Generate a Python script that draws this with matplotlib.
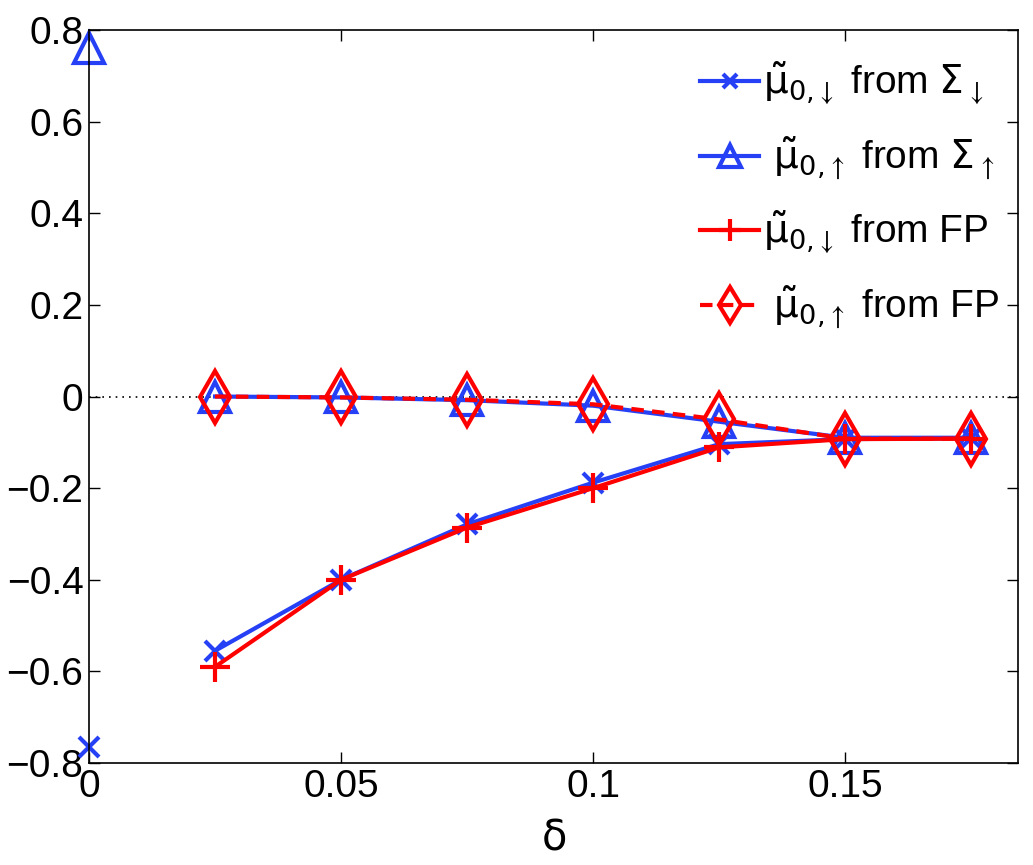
import numpy as np
import matplotlib
matplotlib.use("Agg")
import matplotlib.pyplot as plt

plt.rcParams["font.family"] = ["Liberation Sans", "DejaVu Sans"]
plt.rcParams["mathtext.fontset"] = "custom"
plt.rcParams["mathtext.rm"] = "DejaVu Sans"
plt.rcParams["mathtext.it"] = "DejaVu Sans"
plt.rcParams["mathtext.bf"] = "DejaVu Sans:bold"
plt.rcParams["mathtext.sf"] = "STIXGeneral"

# ---- data ----
delta = [0.025, 0.05, 0.075, 0.1, 0.125, 0.15, 0.175]
mu_down_sigma = [-0.555, -0.400, -0.279, -0.188, -0.104, -0.093, -0.091]
mu_up_sigma = [0.0, -0.002, -0.008, -0.020, -0.055, -0.090, -0.090]
mu_down_fp = [-0.590, -0.400, -0.286, -0.200, -0.111, -0.093, -0.092]
mu_up_fp = [0.0, -0.002, -0.007, -0.017, -0.050, -0.092, -0.092]

# isolated values at delta = 0 (Sigma only)
delta0 = [0.0]
mu_down_sigma0 = [-0.765]
mu_up_sigma0 = [0.761]

labels = [
    r"$\tilde{\mu}_{0{,}\mathsf{\downarrow}}$ from $\Sigma_{\mathsf{\downarrow}}$",
    r" $\tilde{\mu}_{0{,}\mathsf{\uparrow}}$ from $\Sigma_{\mathsf{\uparrow}}$",
    r"$\tilde{\mu}_{0{,}\mathsf{\downarrow}}$ from FP",
    r" $\tilde{\mu}_{0{,}\mathsf{\uparrow}}$ from FP",
]

BLUE = "#2640f5"
RED = "#ff0000"

fig = plt.figure(figsize=(10.33, 8.65), dpi=100)
ax = fig.add_axes([0.0862, 0.1179, 0.8993, 0.8474])

ax.axhline(0, color="k", linestyle=(0, (1, 3)), linewidth=1.2, zorder=1)

ax.plot(delta, mu_down_sigma, color=BLUE, linewidth=3, marker="x",
        markersize=14, markeredgewidth=3, label=labels[0])
ax.plot(delta, mu_up_sigma, color=BLUE, linewidth=3, marker="^",
        markersize=22, markeredgewidth=3, markerfacecolor="none",
        label=labels[1])
ax.plot(delta, mu_down_fp, color=RED, linewidth=3, marker="+",
        markersize=22, markeredgewidth=3, label=labels[2])
ax.plot(delta, mu_up_fp, color=RED, linewidth=3, linestyle="--",
        dashes=(3, 2), marker="d", markersize=26, markeredgewidth=3,
        markerfacecolor="none", label=labels[3])

ax.plot(delta0, mu_down_sigma0, linestyle="none", color=BLUE, marker="x",
        markersize=14, markeredgewidth=3, clip_on=False)
ax.plot(delta0, mu_up_sigma0, linestyle="none", color=BLUE, marker="^",
        markersize=22, markeredgewidth=3, markerfacecolor="none",
        clip_on=False)

ax.set_xlim(0, 0.1843)
ax.set_ylim(-0.8, 0.8)
ax.set_xticks([0, 0.05, 0.1, 0.15])
ax.set_xticklabels(["0", "0.05", "0.1", "0.15"])
ax.set_yticks(np.arange(-0.8, 0.81, 0.2))
ax.set_yticklabels(["\u22120.8", "\u22120.6", "\u22120.4", "\u22120.2", "0",
                    "0.2", "0.4", "0.6", "0.8"])
ax.tick_params(direction="in", length=8, width=1, labelsize=28,
               top=True, right=True, pad=4)
for s in ax.spines.values():
    s.set_linewidth(1.2)

ax.set_xlabel(r"$\delta$", fontsize=30, labelpad=10)

leg = ax.legend(loc="upper right", bbox_to_anchor=(1.013, 1.0), frameon=False,
                fontsize=28, handlelength=1.5, handletextpad=0.1,
                labelspacing=0.73, borderaxespad=0.4, markerscale=0.7)

fig.savefig("out.png", dpi=100)
